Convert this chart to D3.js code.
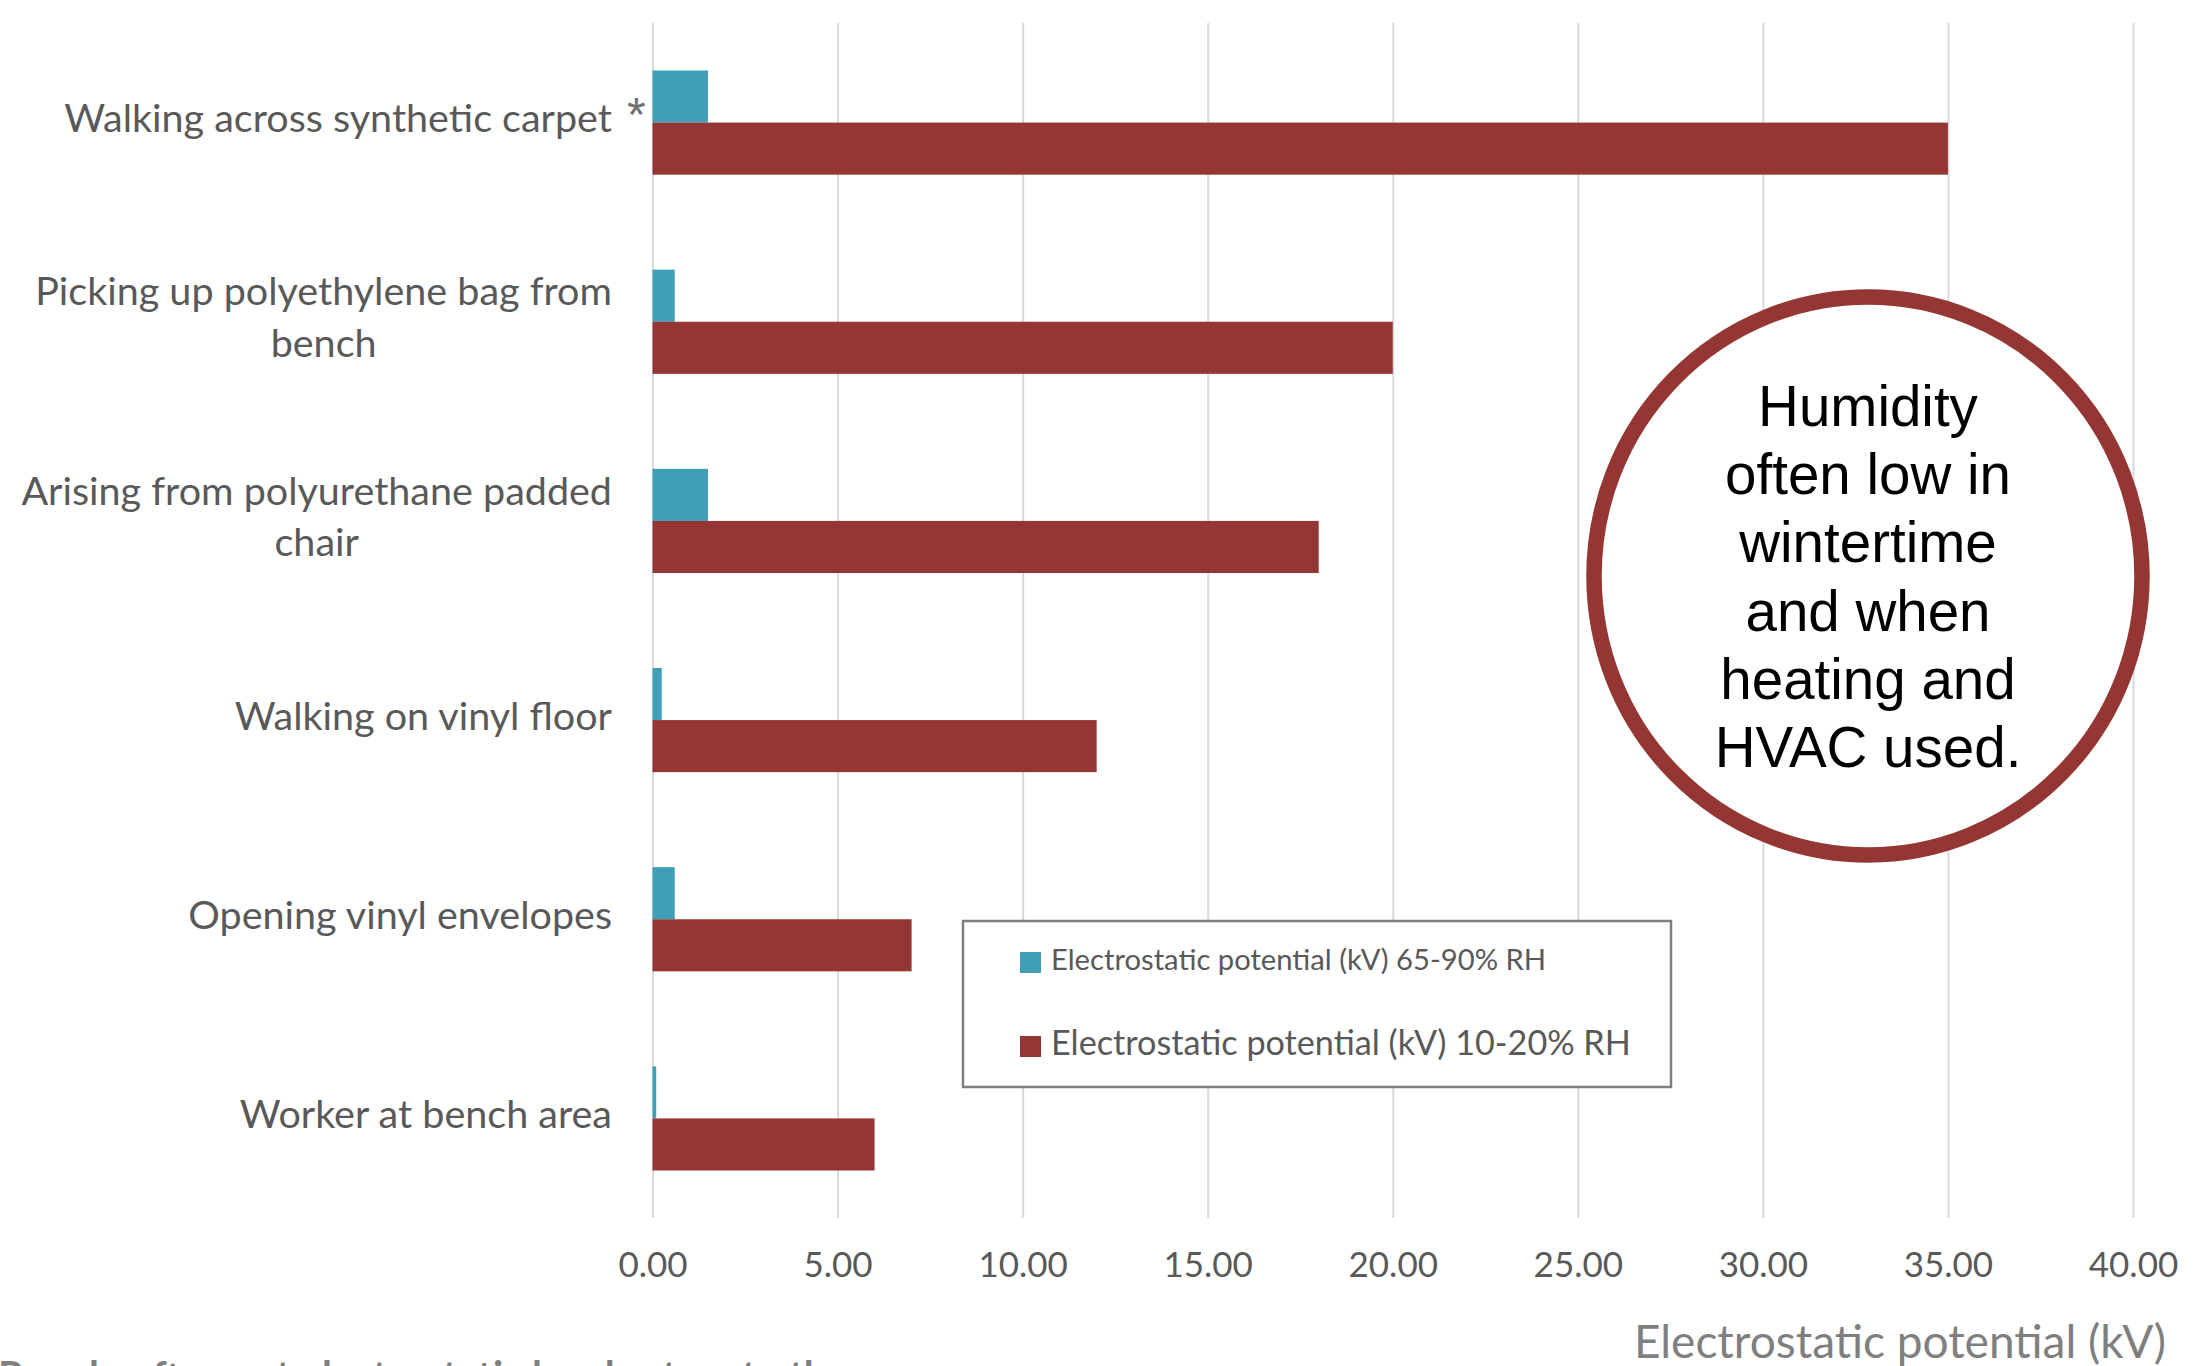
<!DOCTYPE html>
<html>
<head>
<meta charset="utf-8">
<script src="https://cdn.jsdelivr.net/npm/d3@7"></script>
<style>
  html, body { margin: 0; padding: 0; background: #ffffff; overflow: hidden; }
  svg { display: block; }
</style>
</head>
<body>
<svg id="chart" width="2205" height="1366"></svg>
<script>
// Activities (multi-line labels split with \n), top to bottom
const categories = [
  "Walking across synthetic carpet",
  "Picking up polyethylene bag from\nbench",
  "Arising from polyurethane padded\nchair",
  "Walking on vinyl floor",
  "Opening vinyl envelopes",
  "Worker at bench area"
];

// Electrostatic potential in kV
const seriesNames = [
  "Electrostatic potential (kV) 65-90% RH",
  "Electrostatic potential (kV) 10-20% RH"
];
const highHumidity = [1.5, 0.6, 1.5, 0.25, 0.6, 0.1];   // 65-90% RH
const lowHumidity  = [35, 20, 18, 12, 7, 6];            // 10-20% RH

const xTicks = [0, 5, 10, 15, 20, 25, 30, 35, 40];
const axisTitle = "Electrostatic potential (kV)";
const calloutLines = ["Humidity", "often low in", "wintertime", "and when", "heating and", "HVAC used."];
const footnoteMark = "*";
const captionText = "People often get electrostatic levels at up to the";

const colors = ["#409eb7", "#943634"];
const labelFont = "Lato, 'Noto Sans', sans-serif";

const svg = d3.select("#chart");

// Plot frame
const plotLeft = 652.5, plotRight = 2133, plotTop = 23, plotBottom = 1218;

const x = d3.scaleLinear().domain([0, 40]).range([plotLeft, plotRight]);
const y = d3.scaleBand().domain(categories).range([plotTop, plotBottom])
  .paddingInner(0.477).paddingOuter(0.2385);
const ySub = d3.scaleBand().domain([0, 1]).range([0, y.bandwidth()]);

// Vertical gridlines + tick labels
const xAxis = d3.axisBottom(x)
  .tickValues(xTicks)
  .tickFormat(d3.format(".2f"))
  .tickSize(-(plotBottom - plotTop))
  .tickSizeOuter(0);

const gx = svg.append("g")
  .attr("transform", `translate(0,${plotBottom})`)
  .call(xAxis);
gx.select(".domain").remove();
gx.selectAll(".tick line").attr("stroke", "#d9d9d9").attr("stroke-width", 2);
gx.selectAll(".tick text")
  .attr("y", 59).attr("dy", null)
  .attr("fill", "#595959")
  .style("font-family", labelFont)
  .style("font-size", "35px");

// Bars
const rows = categories.map((c, i) => ({ cat: c, values: [highHumidity[i], lowHumidity[i]] }));

const groups = svg.append("g").selectAll("g")
  .data(rows).join("g")
  .attr("transform", d => `translate(0,${y(d.cat)})`);

groups.selectAll("rect")
  .data(d => d.values.map((v, k) => ({ v, k })))
  .join("rect")
  .attr("x", x(0))
  .attr("y", d => ySub(d.k))
  .attr("width", d => x(d.v) - x(0))
  .attr("height", ySub.bandwidth())
  .attr("fill", d => colors[d.k]);

// Category labels, right-aligned block, lines centred within the block
const labelRight = 612;
const lineGap = 51.7;
categories.forEach(c => {
  const lines = c.split("\n");
  const cy = y(c) + y.bandwidth() / 2;
  const g = svg.append("g");
  const texts = lines.map((ln, i) => g.append("text")
    .attr("y", cy + 9.5 + (i - (lines.length - 1) / 2) * lineGap)
    .attr("fill", "#595959")
    .style("font-family", labelFont)
    .style("font-size", "39.5px")
    .text(ln));
  const maxW = d3.max(texts, t => t.node().getComputedTextLength());
  texts.forEach(t => t.attr("text-anchor", "middle").attr("x", labelRight - maxW / 2));
});

// Footnote mark beside the first activity
svg.append("text")
  .attr("x", 627)
  .attr("y", y(categories[0]) + y.bandwidth() / 2 + 8)
  .attr("fill", "#6f6f6f")
  .style("font-family", "'Liberation Sans', Arial, sans-serif")
  .style("font-size", "48px")
  .text(footnoteMark);

// Axis title
svg.append("text")
  .attr("x", 2166).attr("y", 1358)
  .attr("text-anchor", "end")
  .attr("fill", "#7f7f7f")
  .style("font-family", labelFont)
  .style("font-size", "46px")
  .text(axisTitle);

// Legend
const legend = svg.append("g");
legend.append("rect")
  .attr("x", 963).attr("y", 921).attr("width", 708).attr("height", 166)
  .attr("fill", "#ffffff").attr("stroke", "#7f7f7f").attr("stroke-width", 2.5);
const legendRows = [
  { sq: 952, base: 970, size: "29.2px" },
  { sq: 1036, base: 1055, size: "34.2px" }
];
seriesNames.forEach((name, k) => {
  legend.append("rect")
    .attr("x", 1020).attr("y", legendRows[k].sq)
    .attr("width", 21).attr("height", 21)
    .attr("fill", colors[k]);
  legend.append("text")
    .attr("x", 1051).attr("y", legendRows[k].base)
    .attr("fill", "#595959")
    .style("font-family", labelFont)
    .style("font-size", legendRows[k].size)
    .text(name);
});

// Callout ellipse
const callout = svg.append("g");
callout.append("ellipse")
  .attr("cx", 1868).attr("cy", 576).attr("rx", 274).attr("ry", 279)
  .attr("fill", "#ffffff").attr("stroke", "#943634").attr("stroke-width", 15.5);
callout.selectAll("text")
  .data(calloutLines).join("text")
  .attr("x", 1868)
  .attr("y", (d, i) => 426 + i * 68.2)
  .attr("text-anchor", "middle")
  .attr("fill", "#000000")
  .style("font-family", "'Liberation Sans', Arial, sans-serif")
  .style("font-size", "56.5px")
  .text(d => d);

// Caption running off the bottom edge
svg.append("text")
  .attr("x", -2).attr("y", 1390)
  .attr("fill", "#7f7f7f")
  .style("font-family", labelFont)
  .style("font-weight", "bold")
  .style("font-size", "40px")
  .text(captionText);
</script>
</body>
</html>
